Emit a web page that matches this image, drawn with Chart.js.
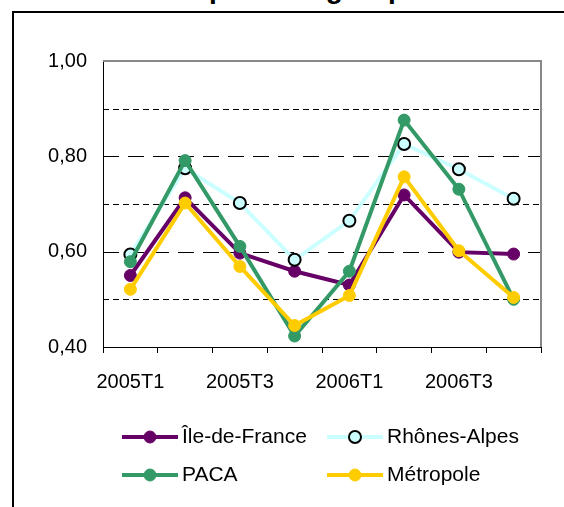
<!DOCTYPE html>
<html>
<head>
<meta charset="utf-8">
<script src="https://cdn.jsdelivr.net/npm/chart.js@4/dist/chart.umd.min.js"></script>
<style>
  html, body { margin: 0; padding: 0; background: #fff; overflow: hidden; }
  #frame { position: absolute; left: 12px; top: 11px; width: 700px; height: 700px;
           border-left: 2px solid #000; border-top: 2px solid #000; }
  #title { position: absolute; left: 209px; top: -25px; white-space: nowrap;
           font: bold 28px "Liberation Sans", Arial, sans-serif; line-height: 28px; color: #000; }
  #title .pre { position: absolute; right: 100%; }
  canvas { position: absolute; left: 0; top: 0; }
</style>
</head>
<body>
<div id="frame"></div>
<div id="title"><span class="pre">Indice trimestriel&nbsp;</span>pour les groupes</div>
<canvas id="chart" width="564" height="507"></canvas>
<script>
// quarters on the x axis, only every other one gets a label
const quarters = ['2005T1', '2005T2', '2005T3', '2005T4', '2006T1', '2006T2', '2006T3', '2006T4'];

const ileDeFrance = [0.550, 0.713, 0.597, 0.559, 0.530, 0.719, 0.599, 0.595];
const rhonesAlpes = [0.594, 0.775, 0.702, 0.583, 0.665, 0.826, 0.773, 0.711];
const paca        = [0.579, 0.791, 0.611, 0.423, 0.559, 0.876, 0.731, 0.500];
const metropole   = [0.521, 0.702, 0.569, 0.445, 0.508, 0.757, 0.602, 0.504];

// y axis: labels every 0.2, dashed lines in between
const majorGrid = [0.6, 0.8];
const minorGrid = [0.5, 0.7, 0.9];

const FONT = '"Liberation Sans", Arial, sans-serif';

function series(label, data, color, fill, border, order) {
    return {
        label: label,
        data: data,
        borderColor: color,
        borderWidth: 4,
        pointRadius: 6,
        pointBorderWidth: border === color ? 1 : 2,
        pointBackgroundColor: fill,
        pointBorderColor: border,
        tension: 0,
        order: order
    };
}

// grid lines, plot frame and the two-column legend
const decor = {
    id: 'decor',
    beforeDatasetsDraw(chart) {
        const ctx = chart.ctx, a = chart.chartArea, y = chart.scales.y;
        ctx.save();
        ctx.strokeStyle = '#000';
        ctx.lineWidth = 1;
        ctx.setLineDash([6, 4]);
        minorGrid.forEach(function (v) {
            const py = Math.round(y.getPixelForValue(v)) + 0.5;
            ctx.beginPath(); ctx.moveTo(a.left, py); ctx.lineTo(a.right, py); ctx.stroke();
        });
        ctx.setLineDash([16, 9]);
        majorGrid.forEach(function (v) {
            const py = Math.round(y.getPixelForValue(v)) + 0.5;
            ctx.beginPath(); ctx.moveTo(a.left, py); ctx.lineTo(a.right, py); ctx.stroke();
        });
        ctx.setLineDash([]);
        ctx.strokeStyle = '#888';
        ctx.lineWidth = 2;
        ctx.beginPath();
        ctx.moveTo(a.left, a.top); ctx.lineTo(a.right, a.top); ctx.lineTo(a.right, a.bottom);
        ctx.stroke();
        ctx.restore();
    },
    afterDraw(chart) {
        const ctx = chart.ctx;
        const cols = [122, 327], rows = [437, 475];
        ctx.save();
        ctx.font = '21px ' + FONT;
        ctx.textBaseline = 'middle';
        ctx.textAlign = 'left';
        chart.data.datasets.forEach(function (ds, i) {
            const x = cols[i % 2], yy = rows[Math.floor(i / 2)];
            ctx.strokeStyle = ds.borderColor;
            ctx.lineWidth = 4;
            ctx.beginPath(); ctx.moveTo(x, yy); ctx.lineTo(x + 56, yy); ctx.stroke();
            ctx.beginPath(); ctx.arc(x + 28, yy, 6, 0, Math.PI * 2);
            ctx.fillStyle = ds.pointBackgroundColor; ctx.fill();
            ctx.lineWidth = ds.pointBorderWidth; ctx.strokeStyle = ds.pointBorderColor; ctx.stroke();
            ctx.fillStyle = '#000';
            ctx.fillText(ds.label, x + 60, yy);
        });
        ctx.restore();
    }
};

new Chart(document.getElementById('chart'), {
    type: 'line',
    data: {
        labels: quarters,
        datasets: [
            series('Île-de-France', ileDeFrance, '#660066', '#660066', '#660066', 4),
            series('Rhônes-Alpes', rhonesAlpes, '#CCFFFF', '#CCFFFF', '#000000', 3),
            series('PACA', paca, '#339966', '#339966', '#339966', 2),
            series('Métropole', metropole, '#FFCC00', '#FFCC00', '#FFCC00', 1)
        ]
    },
    options: {
        responsive: false,
        animation: false,
        layout: { padding: { left: 0, top: 61, right: 23, bottom: 110 } },
        plugins: { legend: { display: false }, tooltip: { enabled: false } },
        scales: {
            x: {
                offset: true,
                grid: { offset: true, drawOnChartArea: false, drawTicks: true, tickLength: 6, tickColor: '#000' },
                border: { color: '#000', width: 1 },
                ticks: {
                    autoSkip: false, maxRotation: 0, padding: 17, color: '#000',
                    font: { family: FONT, size: 20 },
                    callback: function (v, i) { return i % 2 === 0 ? quarters[i] : ''; }
                },
                afterFit: function (s) { s.height = 50; }
            },
            y: {
                min: 0.4, max: 1.0,
                grid: { drawOnChartArea: false, drawTicks: false },
                border: { color: '#000', width: 1 },
                ticks: {
                    stepSize: 0.2, padding: 16, color: '#000',
                    font: { family: FONT, size: 20 },
                    callback: function (v) { return v.toFixed(2).replace('.', ','); }
                },
                afterFit: function (s) { s.width = 103; }
            }
        }
    },
    plugins: [decor]
});
</script>
</body>
</html>
